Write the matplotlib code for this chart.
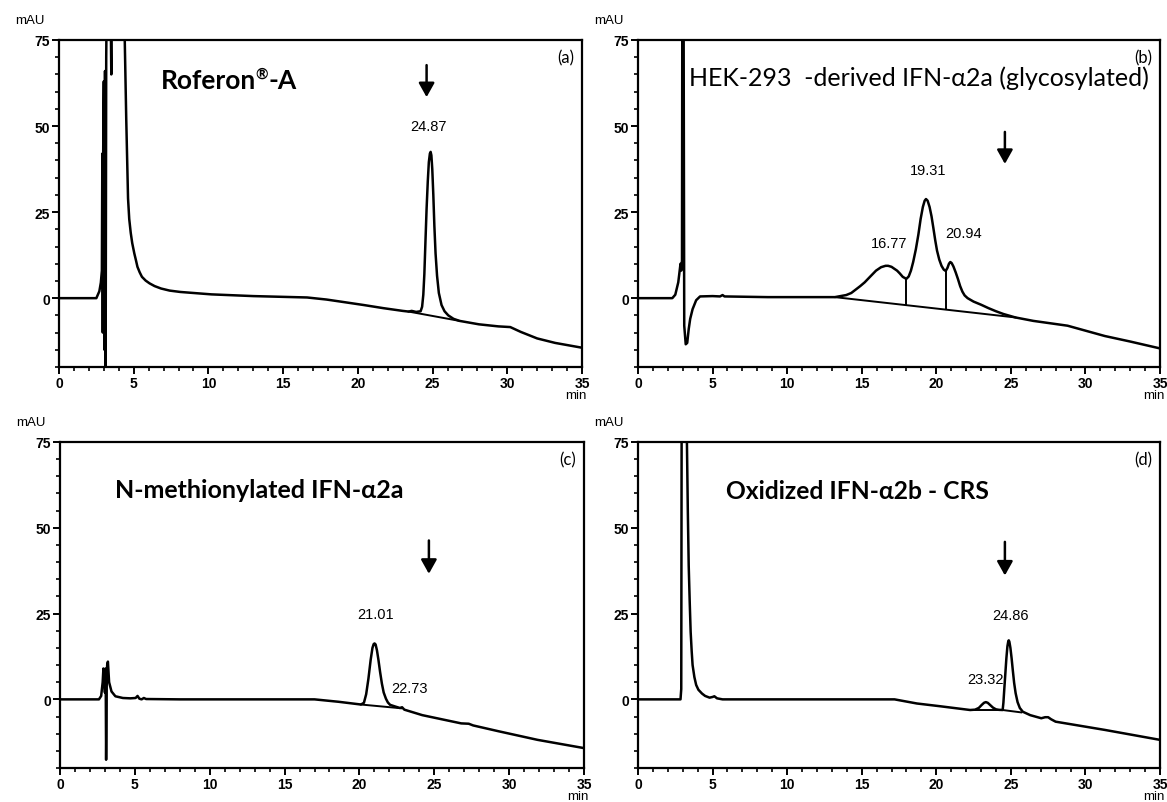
import matplotlib
matplotlib.use("Agg")
import matplotlib.pyplot as plt
import matplotlib.transforms as mtransforms
from matplotlib.ticker import MultipleLocator

# ---------------- (a) Roferon-A ----------------
t_a = [0, 2.5, 2.7, 2.8, 2.87, 2.9, 2.93, 2.96, 3.0, 3.04, 3.08, 3.12, 3.16,
       3.22, 3.3, 3.42, 3.5, 3.55, 3.8, 4.1, 4.4, 4.5, 4.62, 4.7, 4.8, 4.9,
       5.04, 5.15, 5.25, 5.4, 5.55, 5.8, 6.06, 6.4, 6.83, 7.4, 8.12, 10.2,
       13.0, 16.6, 17.9, 19.0, 20.4, 21.7, 23.0, 23.4, 23.6, 23.9, 24.2,
       24.3, 24.38, 24.45, 24.52, 24.6, 24.68, 24.75, 24.82, 24.87, 24.92,
       24.98, 25.05, 25.12, 25.2, 25.3, 25.42, 25.6, 25.8, 26.05, 26.4, 26.8,
       28.1, 29.4, 30.2, 30.9, 32.0, 33.2, 35.0]
mau_a = [0, 0, 2.0, 4.5, 8, 42, -10, 44, 63, -15, 66, -25, 70,
         100, 120, 100, 65, 140, 200, 140, 75, 52, 29, 23, 19, 16,
         13, 11, 9.1, 7.5, 6.2, 5.1, 4.3, 3.5, 2.8, 2.2, 1.8, 1.1,
         0.6, 0.2, -0.4, -1.1, -2.0, -2.9, -3.7, -3.9, -3.7, -4.0, -3.8,
         -2.5, 1, 7, 16, 26, 34, 39.5, 42, 42.5, 41.5,
         37.5, 30, 21, 13, 6.5, 1.5, -2, -3.8, -5.0, -6.0, -6.6,
         -7.6, -8.2, -8.4, -9.8, -11.7, -13.0, -14.4]
base_a_t = [23.4, 26.8]
base_a_mau = [-3.9, -6.6]
peaks_a = ["24.87"]
peak_a_t = [24.7]
peak_a_mau = [49.9]

# ---------------- (b) HEK-293-derived IFN-a2a ----------------
t_b = [0, 2.3, 2.5, 2.7, 2.85, 2.9, 2.95, 2.98, 3.04, 3.1, 3.2, 3.3, 3.4,
       3.5, 3.66, 3.9, 4.16, 5.0, 5.5, 5.67, 5.8, 8.7, 13.2, 13.96, 14.3,
       14.6, 14.9, 15.2, 15.6, 15.96, 16.3, 16.6, 16.77, 17.0, 17.2, 17.37,
       17.55, 17.75, 17.99, 18.15, 18.3, 18.45, 18.63, 18.8, 18.95, 19.1,
       19.22, 19.31, 19.42, 19.55, 19.68, 19.8, 19.93, 20.05, 20.2, 20.35,
       20.5, 20.63, 20.75, 20.85, 20.94, 21.03, 21.15, 21.3, 21.45, 21.6,
       21.75, 21.9, 22.1, 22.5, 23.0, 23.5, 24.0, 24.5, 25.3, 26.5, 28.8,
       31.3, 33.0, 35.0]
mau_b = [0, 0, 1.0, 4.6, 10, 8, 11, 120, 120, -8, -13.4, -13, -9,
         -6, -3.2, -0.6, 0.5, 0.6, 0.5, 0.9, 0.5, 0.3, 0.3, 0.9, 1.5,
         2.5, 3.5, 4.6, 6.4, 8.0, 9.0, 9.4, 9.4, 9.1, 8.5, 8.0,
         7.2, 6.2, 5.6, 6.3, 8.0, 10.5, 14.2, 18.5, 23.0, 26.5,
         28.3, 28.8, 28.3, 26.5, 23.8, 20.5, 16.8, 13.8, 11.2, 9.4,
         8.3, 7.9, 8.8, 10.0, 10.5, 10.2, 9.2, 7.5, 5.6, 3.5,
         1.9, 0.8, 0.0, -1.0, -1.9, -2.9, -3.8, -4.6, -5.6, -6.6, -8.0,
         -11.0, -12.6, -14.6]
base_b_t = [13.2, 25.3]
base_b_mau = [0.3, -5.6]
drop_b_t = [17.99, 20.63]
drop_b_low = [-2.0, -3.3]
drop_b_high = [5.6, 7.9]
peaks_b = ["16.77", "19.31", "20.94"]
peak_b_t = [16.85, 19.44, 21.82]
peak_b_mau = [16.0, 37.3, 18.9]

# ---------------- (c) N-methionylated IFN-a2a ----------------
t_c = [0, 2.6, 2.75, 2.85, 2.9, 2.95, 3.0, 3.05, 3.08, 3.12, 3.15, 3.2,
       3.28, 3.44, 3.7, 4.2, 4.7, 5.05, 5.18, 5.3, 5.45, 5.6, 5.75, 8.0,
       17.0, 18.6, 20.1, 20.3, 20.45, 20.6, 20.75, 20.87, 20.95, 21.01,
       21.08, 21.17, 21.27, 21.38, 21.5, 21.62, 21.77, 21.9, 22.05, 22.4,
       22.7, 22.85, 23.0, 24.2, 25.5, 26.8, 27.3, 27.6, 29.3, 31.9, 35.0]
mau_c = [0, 0, 1, 5, 9, 8, 2, 9, -17.6, 4, 10, 11,
         5, 2.3, 0.9, 0.4, 0.3, 0.4, 1.0, 0.2, 0.0, 0.4, 0.1, 0,
         0, -0.7, -1.5, -1.0, 1.5, 6.0, 11.5, 15.0, 16.1, 16.3,
         16.0, 14.3, 11.5, 8.0, 4.6, 2.0, 0.2, -0.9, -1.6, -2.1,
         -2.5, -2.3, -3.0, -4.6, -5.8, -7.0, -7.1, -7.6, -9.3, -11.8, -14.2]
base_c_t = [20.1, 22.8]
base_c_mau = [-1.5, -2.6]
peaks_c = ["21.01", "22.73"]
peak_c_t = [21.07, 23.37]
peak_c_mau = [24.9, 3.2]

# ---------------- (d) Oxidized IFN-a2b CRS ----------------
t_d = [0, 2.85, 2.9, 2.95, 3.2, 3.28, 3.34, 3.4, 3.47, 3.53, 3.6, 3.66,
       3.78, 3.9, 4.05, 4.29, 4.5, 4.8, 5.0, 5.12, 5.3, 5.67, 17.2, 18.7,
       20.25, 22.27, 22.6, 22.85, 23.05, 23.2, 23.32, 23.45, 23.6, 23.8,
       24.0, 24.2, 24.45, 24.5, 24.56, 24.63, 24.7, 24.77, 24.83, 24.86,
       24.9, 24.97, 25.05, 25.13, 25.22, 25.32, 25.45, 25.6, 25.8, 26.3,
       27.04, 27.3, 27.5, 27.7, 28.0, 31.3, 35.0]
mau_d = [0, 0, 3, 150, 150, 75, 55, 39, 28, 19.7, 14, 10,
         6.5, 4.2, 2.8, 1.7, 1.0, 0.5, 0.7, 0.9, 0.3, 0, 0, -1.2,
         -2.0, -3.1, -3.0, -2.5, -1.6, -1.0, -0.8, -1.0, -1.6, -2.4,
         -2.9, -3.05, -3.1, -1.0, 3.0, 7.5, 12.0, 15.5, 17.0, 17.2,
         16.8, 15.0, 12.0, 8.5, 4.8, 1.8, -0.8, -2.5, -3.6, -4.6,
         -5.5, -5.2, -5.2, -5.8, -6.5, -8.9, -11.8]
base_d_t = [22.3, 24.45, 25.7]
base_d_mau = [-3.1, -3.1, -3.8]
peaks_d = ["24.86", "23.32"]
peak_d_t = [25.0, 23.33]
peak_d_mau = [24.5, 5.96]

# arrows marking the expected elution position
arrow_t = [24.6, 24.6, 24.64, 24.6]
arrow_top = [67.7, 48.3, 46.3, 45.9]
arrow_tip = [58.4, 39.0, 36.6, 36.1]

panel_tags = ["(a)", "(b)", "(c)", "(d)"]
x_ticks = [0, 5, 10, 15, 20, 25, 30, 35]
y_ticks = [0, 25, 50, 75]

NUM_FONT = ["Liberation Sans", "DejaVu Sans"]
TITLE_FONT = ["Lato", "Open Sans", "DejaVu Sans"]

W, H = 1167, 803
fig = plt.figure(figsize=(W / 100, H / 100), dpi=100)


def make_axes(l, t, r, b):
    return fig.add_axes([l / W, 1 - b / H, (r - l) / W, (b - t) / H])


axes = [make_axes(59, 41, 582, 368), make_axes(638, 41, 1160, 368),
        make_axes(60, 443, 584, 769), make_axes(638, 443, 1160, 769)]

traces = [(t_a, mau_a), (t_b, mau_b), (t_c, mau_c), (t_d, mau_d)]
bases = [(base_a_t, base_a_mau), (base_b_t, base_b_mau),
         (base_c_t, base_c_mau), (base_d_t, base_d_mau)]
labels = [(peaks_a, peak_a_t, peak_a_mau), (peaks_b, peak_b_t, peak_b_mau),
          (peaks_c, peak_c_t, peak_c_mau), (peaks_d, peak_d_t, peak_d_mau)]

for i, ax in enumerate(axes):
    tx, ty = traces[i]
    ax.plot(tx, ty, color="black", lw=1.8, solid_joinstyle="round")
    bx, by = bases[i]
    ax.plot(bx, by, color="black", lw=1.4)
    names, lt, lm = labels[i]
    for s, x, y in zip(names, lt, lm):
        ax.text(x, y, s, ha="center", va="center", fontsize=10.5,
                family=NUM_FONT, color="black")
    ax.annotate("", xy=(arrow_t[i], arrow_tip[i]),
                xytext=(arrow_t[i], arrow_top[i]),
                arrowprops=dict(arrowstyle="-|>,head_length=0.5,head_width=0.28",
                                color="black", lw=1.8, mutation_scale=17,
                                shrinkA=0, shrinkB=0))
    ax.set_xlim(0, 35)
    ax.set_ylim(-20, 75)
    ax.set_xticks(x_ticks)
    ax.set_yticks(y_ticks)
    ax.xaxis.set_minor_locator(MultipleLocator(1))
    ax.yaxis.set_minor_locator(MultipleLocator(5))
    ax.tick_params(which="major", direction="out", length=5, width=1.4,
                   pad=1.5, labelsize=10)
    ax.tick_params(which="minor", direction="out", length=3, width=1.2)
    for lab in ax.get_xticklabels() + ax.get_yticklabels():
        lab.set_family(NUM_FONT)
        lab.set_fontweight("bold")
    for sp in ax.spines.values():
        sp.set_linewidth(1.6)
    ax.text(0.985, 0.948, panel_tags[i], transform=ax.transAxes, ha="right",
            va="center", fontsize=12, family=TITLE_FONT)
    ax.text(-0.055, 1.06, "mAU", transform=ax.transAxes, ha="center",
            va="center", fontsize=9.5, family=NUM_FONT)
    min_tr = mtransforms.offset_copy(ax.transAxes, fig=fig, x=5, y=0,
                                     units="dots")
    ax.text(1.0, -0.086, "min", transform=min_tr, ha="right",
            va="center", fontsize=9.5, family=NUM_FONT)

# panel titles
ax_a, ax_b, ax_c, ax_d = axes
ta = ax_a.text(6.8, 61.2, "Roferon", ha="left", va="baseline", fontsize=19,
               fontweight="bold", family=TITLE_FONT)
tr = ax_a.annotate("®", xy=(1.0, 1.02), xycoords=ta, ha="left", va="top",
                   fontsize=11, fontweight="bold", family=TITLE_FONT)
ax_a.annotate("-A", xy=(1.0, 0.0), xycoords=(tr, ta), ha="left",
              va="bottom", fontsize=19, fontweight="bold", family=TITLE_FONT)
ax_b.text(3.4, 61.9, "HEK-293  -derived IFN-α2a (glycosylated)", ha="left",
          va="baseline", fontsize=18, family=TITLE_FONT)
ax_c.text(3.67, 58.9, "N-methionylated IFN-α2a", ha="left", va="baseline",
          fontsize=18, fontweight="bold", family=TITLE_FONT)
ax_d.text(5.9, 58.7, "Oxidized IFN-α2b - CRS", ha="left", va="baseline",
          fontsize=17.7, fontweight="bold", family=TITLE_FONT)

for vx, lo, hi in zip(drop_b_t, drop_b_low, drop_b_high):
    ax_b.vlines(vx, lo, hi, color="black", lw=1.4)

fig.savefig("out.png", dpi=100, facecolor="white")
